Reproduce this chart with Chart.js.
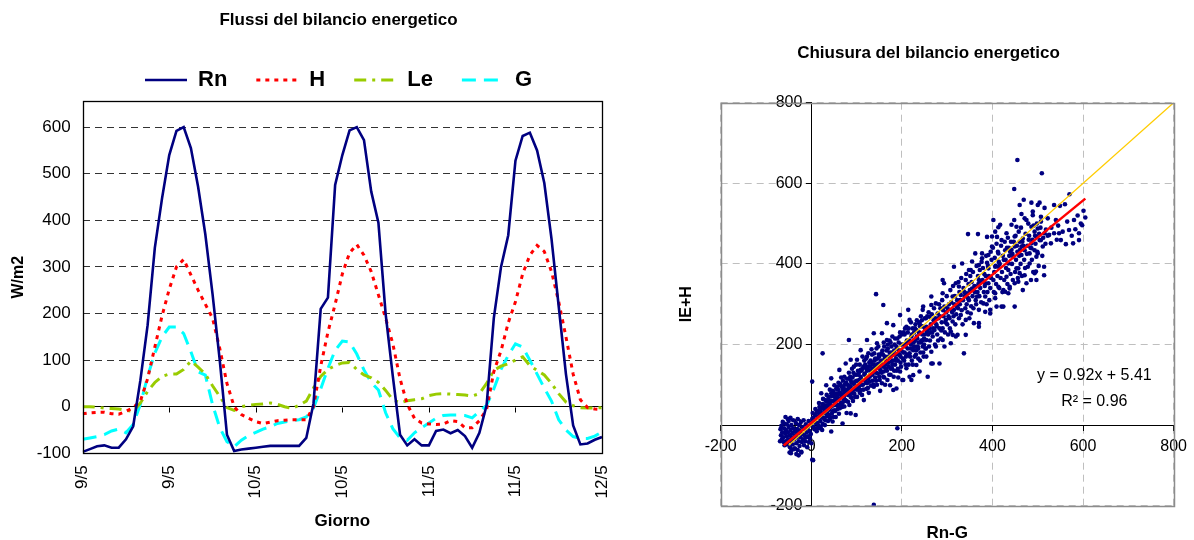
<!DOCTYPE html>
<html><head><meta charset="utf-8">
<script src="https://cdn.jsdelivr.net/npm/chart.js@4.4.1/dist/chart.umd.min.js"></script>
<style>
html,body{margin:0;padding:0;background:#fff;overflow:hidden;width:1194px;height:540px;}
#c1{position:absolute;left:0;top:0;width:677px;height:540px;}
#c2{position:absolute;left:676px;top:0;width:518px;height:548px;}
</style></head><body>
<canvas id="c1" width="677" height="540"></canvas>
<canvas id="c2" width="518" height="548"></canvas>
<script>
// ---------- Left chart data (hourly, 9/5 00:00 -> 12/5 00:00) ----------
const tickLabels = ['9/5','9/5','10/5','10/5','11/5','11/5','12/5'];
const rn = [-97,-91,-85,-83,-88,-88,-70,-42,57,175,341,447,540,592,600,555,472,370,242,100,-60,-95,-92,-90,
            -88,-86,-84,-84,-84,-84,-84,-67,7,210,234,476,540,593,600,572,462,395,199,65,-60,-83,-70,-83,
            -83,-52,-49,-57,-50,-63,-88,-56,3,190,300,368,528,581,588,550,480,360,215,70,-40,-81,-79,-71,-65];
const hFlux = [-15,-13,-12,-12,-15,-16,-10,-2,12,60,128,195,252,300,316,283,250,220,190,125,50,0,-17,-25,
               -32,-36,-33,-30,-29,-28,-28,-28,0,87,160,220,285,330,348,325,290,240,190,135,60,5,-25,-35,
               -37,-38,-37,-30,-32,-45,-45,-30,-6,75,120,180,225,285,325,346,333,290,225,150,70,15,-2,-5,-6];
const le = [0,0,-1,-3,-4,-5,-8,-10,8,33,52,65,70,70,80,98,85,70,45,22,-2,-8,0,3,
            5,6,8,5,0,-4,3,12,40,65,80,88,94,95,80,68,62,52,35,15,8,13,15,17,
            24,27,28,27,26,25,23,28,50,78,87,92,100,107,88,78,68,50,28,10,2,-2,-3,-3,-2];
const gFlux = [-70,-67,-64,-60,-52,-48,-56,-38,5,65,115,150,171,171,157,118,75,68,5,-45,-75,-86,-72,-62,
               -55,-48,-43,-36,-33,-30,-28,-22,-3,38,82,121,141,139,113,79,52,36,-13,-47,-67,-72,-56,-45,
               -35,-25,-19,-18,-18,-19,-24,-10,3,38,80,110,135,128,100,70,40,12,-28,-50,-64,-68,-68,-63,-54];

// ---------- Right chart data ----------
const trendSlope = 0.92, trendIntercept = 5.41;
const trendX = [-61, 605];
const identityX = [-50, 800];
const closure = [
[-68,-10],[-66,-2],[-64,-18],[-62,-30],[-60,-8],[-60,4],[-58,-20],[-57,-40],[-56,-12],[-55,-28],[-54,2],[-53,-48],[-52,-18],[-51,-35],[-50,-5],[-50,10],[-48,-25],[-47,-55],[-46,-12],[-45,-40],[-44,0],[-43,-30],[-42,-20],[-41,-48],[-40,-8],[-40,12],[-38,-35],[-37,-58],[-36,-15],[-35,-25],[-34,5],[-33,-45],[-32,-30],[-31,-10],[-30,-62],[-30,15],[-29,-20],[-28,-40],[-27,0],[-26,-52],[-25,-15],[-24,-30],[-23,8],[-22,-66],[-21,-42],[-20,-22],[-19,-5],[-18,-35],[-17,12],[-16,-50],[-15,-25],[-14,-10],[-13,-40],[-12,2],[-11,-30],[-10,-18],[-9,-55],[-8,-6],[-7,-28],[-6,10],[-5,-42],[-4,-15],[-3,-33],[-2,0],[-1,-22],[0,-45],[-65,-35],[-63,8],[-59,-50],[-52,15],[-46,18],[-39,-60],[-44,-62],[-61,-42],[-67,-25],[-69,-40],[-57,20],[-48,-68],[-36,-58],[4,-87],[2,-86],[-22,-68],[-33,-72],[-45,-70],[-28,-75],
[2,15],[5,-5],[8,25],[10,5],[12,-15],[14,35],[15,20],[16,-2],[18,45],[20,10],[22,30],[22,79],[24,-12],[25,52],[27,18],[28,40],[30,0],[31,62],[33,99],[33,28],[35,48],[36,29],[37,10],[38,70],[40,54],[40,38],[42,20],[44,116],[44,79],[44,-16],[45,60],[47,9],[47,85],[48,35],[50,72],[51,99],[51,37],[52,50],[54,20],[55,90],[56,65],[58,62],[58,40],[60,105],[61,28],[62,137],[63,80],[65,79],[65,55],[67,95],[68,45],[69,4],[70,110],[72,70],[73,120],[73,46],[75,88],[76,153],[77,60],[78,30],[80,100],[81,75],[83,130],[84,50],[85,115],[87,162],[87,95],[87,70],[87,29],[88,85],[90,140],[92,60],[93,105],[94,145],[95,78],[96,125],[98,25],[98,90],[100,110],[101,162],[101,70],
[103,135],[105,95],[107,150],[109,186],[109,137],[109,87],[110,115],[112,75],[114,100],[116,62],[117,160],[118,128],[120,142],[122,90],[123,211],[123,170],[123,104],[125,115],[127,80],[128,155],[130,145],[130,125],[132,98],[134,175],[135,110],[136,140],[138,228],[138,95],[140,160],[141,118],[143,130],[144,190],[145,203],[145,100],[147,145],[149,153],[150,170],[150,120],[152,85],[153,135],[155,178],[156,228],[156,104],[157,150],[159,120],[160,133],[161,195],[162,165],[163,100],[165,140],[166,185],[167,253],[167,211],[168,112],[170,155],[172,125],[174,99],[174,170],[175,205],[176,140],[178,141],[178,180],[180,160],[181,248],[181,87],[182,120],[184,200],[185,150],[186,175],[188,195],[188,91],[189,135],[190,215],[191,160],[192,118],[194,185],[196,133],[196,273],[196,230],[197,170],[198,145],[199,200],
[201,112],[203,112],[203,180],[205,160],[206,225],[208,195],[210,244],[210,203],[210,141],[212,175],[214,286],[215,150],[216,210],[217,261],[217,178],[217,120],[219,190],[221,220],[221,112],[222,160],[224,240],[225,186],[225,124],[226,205],[228,170],[230,250],[232,236],[232,186],[232,149],[234,215],[235,195],[236,165],[238,230],[239,253],[239,228],[239,133],[241,180],[243,210],[244,260],[246,286],[246,195],[247,211],[247,294],[248,170],[250,225],[251,240],[252,190],[254,244],[254,211],[254,170],[256,270],[257,120],[258,225],[260,195],[261,240],[261,269],[262,210],[264,250],[265,298],[265,182],[265,153],[265,319],[267,230],[268,220],[268,153],[270,260],[272,236],[273,200],[275,302],[275,195],[276,250],[278,225],[279,277],[280,210],[281,265],[283,153],[283,240],[285,290],[286,215],[288,255],[290,240],[290,211],[290,327],[290,360],[292,270],[293,352],[294,294],[294,195],[295,230],[297,261],[298,280],
[300,250],[302,225],[304,300],[305,265],[306,240],[308,232],[308,203],[310,285],[312,257],[312,319],[312,224],[314,270],[315,286],[315,393],[316,300],[318,250],[319,220],[319,352],[320,275],[322,310],[323,224],[324,290],[326,344],[326,265],[328,300],[330,273],[330,323],[332,285],[333,401],[334,250],[335,310],[337,178],[338,330],[340,290],[341,360],[341,261],[341,224],[343,300],[344,327],[345,280],[346,474],[346,315],[348,310],[348,385],[349,265],[350,335],[352,277],[352,385],[353,295],[355,339],[355,406],[356,320],[358,290],[359,253],[360,345],[362,344],[362,426],[363,310],[364,300],[366,319],[367,330],[368,474],[369,350],[370,397],[370,286],[370,244],[370,253],[370,360],[371,320],[373,340],[375,305],[377,414],[377,426],[378,360],[380,302],[381,330],[383,345],[384,352],[384,319],[384,281],[385,370],[387,300],[388,467],[388,403],[389,330],[391,352],[391,389],[391,422],[393,310],[395,277],[395,286],[395,340],[397,365],[399,468],[399,443],
[402,360],[402,509],[403,330],[404,380],[406,315],[406,327],[406,393],[406,480],[408,350],[409,294],[410,467],[411,370],[413,426],[413,343],[413,393],[413,491],[415,340],[416,400],[417,497],[418,365],[420,294],[420,459],[421,380],[422,330],[424,335],[424,294],[425,410],[426,360],[428,434],[428,331],[430,390],[431,476],[431,368],[433,350],[435,401],[435,385],[435,327],[436,440],[437,420],[438,339],[438,343],[440,375],[442,435],[442,497],[443,400],[445,360],[446,418],[447,455],[448,509],[448,586],[449,294],[449,352],[449,443],[449,468],[450,380],[452,410],[453,389],[453,492],[455,658],[455,430],[456,365],[457,389],[457,356],[459,420],[460,377],[460,455],[460,546],[462,400],[464,524],[464,443],[464,422],[465,370],[467,335],[467,463],[468,445],[469,559],[470,410],[471,513],[471,434],[471,372],[472,390],[475,509],[475,352],[476,425],[478,393],[480,460],[482,426],[482,401],[484,440],[485,360],[486,492],[486,439],[486,451],[486,552],[487,410],[489,521],[489,530],[490,380],[493,480],[493,434],[493,377],[495,450],[496,381],[497,467],[497,418],[497,360],[499,430],[500,546],[500,488],[500,426],[502,395],[504,459],[504,552],[507,505],[507,517],[507,459],[509,625],[510,420],[511,443],[514,372],[514,393],[515,476],[515,539],[517,450],
[522,513],[522,470],[525,472],[529,451],[530,490],[536,546],[536,476],[540,509],[542,460],[545,495],[547,476],[549,544],[551,459],[555,480],[560,548],[562,449],[565,505],[569,484],[570,573],[575,470],[578,451],[580,509],[583,486],[588,520],[591,476],[591,459],[595,500],[598,496],[601,532],[605,515],
[143,325],[159,298],[25,178],[83,211],[2,108],[190,-8],[138,-198],
[3,30],[6,12],[9,40],[11,-8],[13,22],[17,55],[19,28],[21,-5],[23,42],[26,65],[29,15],[32,48],[34,75],[36,45],[39,25],[41,88],[43,58],[46,30],[49,82],[53,68],[57,95],[59,75],[62,50],[64,102],[66,118],[69,88],[71,60],[74,100],[76,78],[79,115],[82,90],[86,120],[89,105],[91,80],[93,130],[97,108],[99,150],[102,95],[104,125],[106,112],[111,135],[113,170],[115,145],[119,110],[121,165],[124,138],[126,178],[129,120],[131,160],[133,188],[137,150],[139,178],[142,145],[146,165],[148,195],[151,140],[154,160],[158,175],[160,205],[164,150],[169,190],[171,170],[173,210],[177,158],[179,220],[183,185],[187,165],[193,205],[195,175],[200,225],[204,200],[207,240],[209,170],[213,230],[218,205],[220,255],[223,190],[227,230],[229,210],[233,260],[237,205],[240,245],[242,270],[245,225],[249,200],[253,265],[255,235],[259,280],[263,230],[266,275],[269,240],[271,290],[274,265],[277,245],[282,300],[284,270],[287,235],[289,310],[291,285],[296,255],[299,320],[301,290],[303,270],[307,335],[309,305],[311,280],[313,345],[317,320],[321,295],[325,355],[327,330],[329,310],[331,365],[336,340],[339,320],[342,375],[347,350],[351,370],[354,355],[357,380],[361,330],[365,395],[368,370],[372,385],[374,355],[376,405],[379,390],[382,375],[386,420],[390,395],[392,370],[396,430],[398,410],[401,440],[405,415],[407,395],[409,450],[412,430],[414,405],[419,445],[423,420],[427,455],[429,410],[432,440],[434,465],[439,430],[441,455],[444,425],[451,470],[454,445],[458,480],[461,435],[463,490],[466,455],[473,475],[477,445],[479,500],[481,470],[488,460],[491,495],[494,470],[498,500],[503,475],[506,490],[512,465],[518,485],
[1,5],[4,18],[7,-10],[9,8],[12,32],[14,5],[16,18],[18,-8],[20,38],[23,20],[25,3],[27,50],[29,30],[31,12],[33,58],[35,22],[37,40],[39,62],[41,15],[43,45],[45,72],[47,48],[49,20],[51,60],[53,35],[55,78],[57,50],[59,88],[61,65],[63,42],[65,98],[67,72],[69,55],[71,92],[73,80],[75,62],[77,105],[79,85],[81,58],[83,98],[85,78],[87,110],[89,68],[91,118],[93,88],[95,100],[97,70],[99,125],[101,88],[103,110],[105,130],[107,80],[109,120],[111,100],[113,140],[115,88],[117,125],[119,150],[121,105],[123,135],[125,92],[127,145],[129,108],[131,135],[133,155],[135,125],[137,100],[139,140],[141,165],[143,110],[145,150],[147,128],[149,175],[151,112],[153,150],[155,130],[157,185],[159,145],[161,118],[163,170],[165,160],[167,135],[169,200],[171,145],[173,180],[175,125],[177,195],[179,150],[181,175],[183,135],[185,215],[187,160],[189,190],[191,140],[193,175],[195,220],[197,155],[199,185],[202,165],[204,230],[206,180],[208,150],[211,210],[213,190],[215,240],[218,170],[220,200],[222,225],[224,150],[227,195],[229,240],[231,175],[233,220],[236,190],[238,255],[240,160],[242,205],[245,245],[247,180],[249,215],[251,265],[253,190],[256,230]
];
const eqLabel = 'y = 0.92x + 5.41';
const r2Label = 'R\u00B2 = 0.96';

Chart.defaults.font.family = "'Liberation Sans', Arial, sans-serif";
Chart.defaults.color = '#000';

const toXY = arr => arr.map((v, i) => ({x: i, y: v}));

const frameLeft = {
  id: 'frameLeft',
  beforeDatasetsDraw(chart) {
    const {ctx, scales: {x, y}} = chart;
    const y0 = Math.round(y.getPixelForValue(0)) + 0.5;
    ctx.save();
    ctx.strokeStyle = '#000'; ctx.lineWidth = 1;
    ctx.beginPath();
    x.ticks.forEach(t => { const px = Math.round(x.getPixelForValue(t.value)) + 0.5; ctx.moveTo(px, y0); ctx.lineTo(px, y0 + 5); });
    ctx.stroke();
    ctx.restore();
  },
  afterDraw(chart) {
    const {ctx, chartArea: a} = chart;
    ctx.save();
    ctx.strokeStyle = '#000'; ctx.lineWidth = 1.3;
    ctx.strokeRect(Math.round(a.left) + 0.5, Math.round(a.top) + 0.5, Math.round(a.right - a.left), Math.round(a.bottom - a.top));
    ctx.restore();
  }
};

new Chart(document.getElementById('c1'), {
  type: 'line',
  data: {datasets: [
    {label: 'Rn', data: toXY(rn), borderColor: '#000080', borderWidth: 2.6, pointRadius: 0, order: 0},
    {label: 'H', data: toXY(hFlux), borderColor: '#FF0000', borderWidth: 3, borderDash: [4, 5], borderCapStyle: 'butt', pointRadius: 0, order: 1},
    {label: 'Le', data: toXY(le), borderColor: '#99CC00', borderWidth: 3, borderDash: [12, 6, 3, 6], borderCapStyle: 'butt', pointRadius: 0, order: 2},
    {label: 'G', data: toXY(gFlux), borderColor: '#00FFFF', borderWidth: 3, borderDash: [14, 8], borderCapStyle: 'butt', pointRadius: 0, order: 3}
  ]},
  options: {
    responsive: false, animation: false,
    layout: {padding: {left: 0, right: 0, top: 0, bottom: 0}},
    plugins: {
      title: {display: true, text: 'Flussi del bilancio energetico', color: '#000', font: {size: 17, weight: 'bold'}, padding: {top: 9.8, bottom: 9.8}},
      legend: {display: true, position: 'top', align: 'center',
        labels: {usePointStyle: true, pointStyle: 'line', pointStyleWidth: 42, boxWidth: 42, padding: 29, color: '#000', font: {size: 22, weight: 'bold'},
          generateLabels: chart => chart.data.datasets.map((ds, i) => ({
            text: ds.label, datasetIndex: i, hidden: false, pointStyle: 'line',
            strokeStyle: ds.borderColor, fillStyle: ds.borderColor, fontColor: '#000',
            lineWidth: ds.borderWidth, lineDash: ds.borderDash || [], lineCap: ds.borderCapStyle || 'butt'
          }))}},
      tooltip: {enabled: false}
    },
    scales: {
      x: {type: 'linear', min: 0, max: 72,
        grid: {display: false}, border: {display: false},
        ticks: {stepSize: 12, autoSkip: false, minRotation: 90, maxRotation: 90, padding: 4, color: '#000', font: {size: 17},
          callback: v => tickLabels[v / 12]},
        title: {display: true, text: 'Giorno', color: '#000', font: {size: 17, weight: 'bold'}, padding: {top: 0, bottom: 8.3}},
        afterFit: s => { s.height = 86.7; }},
      y: {type: 'linear', min: -100, max: 656,
        grid: {drawTicks: false, lineWidth: 1, color: c => (c.tick && c.tick.value === 0) ? '#000' : '#333'},
        border: {display: false, dash: c => (c.tick && c.tick.value === 0) ? [] : [7, 5]},
        ticks: {stepSize: 100, padding: 12, color: '#000', font: {size: 17}},
        afterBuildTicks: s => { s.ticks = s.ticks.filter(t => t.value % 100 === 0); },
        title: {display: true, text: 'W/m2', color: '#000', font: {size: 16, weight: 'bold'}, padding: {top: 8.7, bottom: 0}},
        afterFit: s => { s.width = 82.7; }},
      yr: {type: 'linear', position: 'right', display: true, ticks: {display: false}, grid: {display: false}, border: {display: false},
        afterFit: s => { s.width = 75; }}
    }
  },
  plugins: [frameLeft]
});

const frameRight = {
  id: 'frameRight',
  afterDraw(chart) {
    const {ctx, chartArea: a, scales: {x, y}} = chart;
    ctx.save();
    ctx.strokeStyle = '#8C8C8C'; ctx.lineWidth = 1.5;
    ctx.strokeRect(Math.round(a.left) + 0.5, Math.round(a.top) + 0.5, Math.round(a.right - a.left), Math.round(a.bottom - a.top));
    ctx.fillStyle = '#000';
    ctx.font = "16px 'Liberation Sans', Arial, sans-serif";
    ctx.textAlign = 'center'; ctx.textBaseline = 'middle';
    ctx.fillText(eqLabel, x.getPixelForValue(625), y.getPixelForValue(124));
    ctx.fillText(r2Label, x.getPixelForValue(625), y.getPixelForValue(58));
    ctx.restore();
  }
};

new Chart(document.getElementById('c2'), {
  type: 'scatter',
  data: {datasets: [
    {label: 'fit', data: trendX.map(v => ({x: v, y: trendSlope * v + trendIntercept})), showLine: true, borderColor: '#FF0000', borderWidth: 2.5, pointRadius: 0, order: 0},
    {label: '1:1', data: identityX.map(v => ({x: v, y: v})), showLine: true, borderColor: '#FFCC00', borderWidth: 1.3, pointRadius: 0, order: 1},
    {label: 'punti', data: closure.map(([px, py]) => ({x: px, y: py})), backgroundColor: '#000080', borderWidth: 0, pointRadius: 2.3, order: 2}
  ]},
  options: {
    responsive: false, animation: false,
    layout: {padding: {left: 0, right: 13, top: 0, bottom: 0}},
    plugins: {
      title: {display: true, text: 'Chiusura del bilancio energetico', color: '#000', font: {size: 17, weight: 'bold'}, padding: {top: 42.8, bottom: 39.5}},
      legend: {display: false},
      tooltip: {enabled: false}
    },
    scales: {
      x: {type: 'linear', position: {y: 0}, min: -200, max: 800,
        ticks: {stepSize: 200, padding: 7, color: '#000', font: {size: 16}},
        grid: {color: '#BFBFBF', tickColor: '#000', tickLength: 5, lineWidth: 1},
        border: {display: true, color: '#000', width: 1, dash: [7, 5]}},
      y: {type: 'linear', position: {x: 0}, min: -200, max: 800,
        ticks: {stepSize: 200, padding: 7, color: '#000', font: {size: 16}, callback: v => v + '  '},
        grid: {color: '#BFBFBF', tickColor: '#000', tickLength: 5, lineWidth: 1},
        border: {display: true, color: '#000', width: 1, dash: [7, 5]}},
      xt: {type: 'linear', position: 'bottom', ticks: {display: false}, grid: {display: false}, border: {display: false},
        title: {display: true, text: 'Rn-G', color: '#000', font: {size: 17, weight: 'bold'}, padding: {top: 0, bottom: 4.8}},
        afterFit: s => { s.height = 42.3; }},
      yt: {type: 'linear', position: 'left', ticks: {display: false}, grid: {display: false}, border: {display: false},
        title: {display: true, text: 'lE+H', color: '#000', font: {size: 16, weight: 'bold'}, padding: {top: 0.8, bottom: 0}},
        afterFit: s => { s.width = 44.7; }}
    }
  },
  plugins: [frameRight]
});
</script>
</body></html>
